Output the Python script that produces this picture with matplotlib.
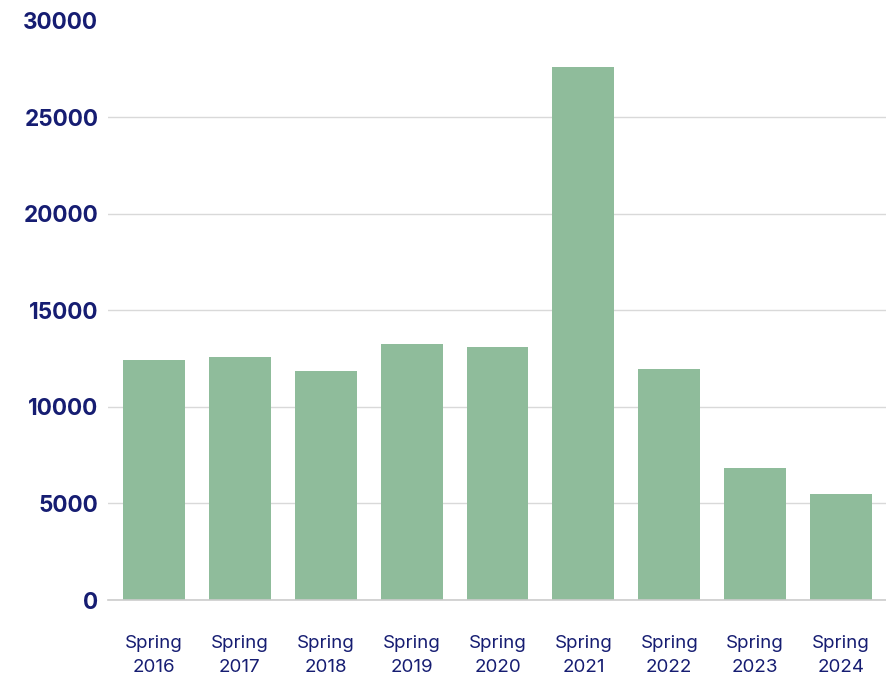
import matplotlib.pyplot as plt
import numpy as np

# Spring term counts per year
seasons = ["Spring\n2016", "Spring\n2017", "Spring\n2018", "Spring\n2019", "Spring\n2020",
           "Spring\n2021", "Spring\n2022", "Spring\n2023", "Spring\n2024"]
counts = [12420, 12570, 11840, 13240, 13090, 27600, 11950, 6830, 5480]
y_ticks = [0, 5000, 10000, 15000, 20000, 25000, 30000]

text_color = "#161d72"
bar_color = "#8fbc9b"

plt.rcParams['font.family'] = ['Inter', 'DejaVu Sans']

fig = plt.figure(figsize=(8.87, 6.77), dpi=100)
ax = fig.add_axes([0.1218, 0.1137, 0.8782, 0.8557])

x = np.arange(len(seasons))
ax.bar(x, counts, width=0.72, color=bar_color, zorder=2)

ax.set_xlim(-0.535, len(seasons) - 1 + 0.535)
ax.set_ylim(0, 30000)
ax.set_yticks(y_ticks)
ax.set_yticklabels([str(v) for v in y_ticks], fontsize=16.2, fontweight='bold', color=text_color)
ax.set_xticks(x)
ax.set_xticklabels(seasons, fontsize=13.5, color=text_color, linespacing=1.55)

ax.tick_params(axis='y', length=0, pad=7)
ax.tick_params(axis='x', length=0, pad=25)

# horizontal grid, top line left out
ax.grid(axis='y', color='#d9d9d9', linewidth=1, zorder=0)
ax.yaxis.get_gridlines()[-1].set_visible(False)

for side in ['top', 'right', 'left']:
    ax.spines[side].set_visible(False)
ax.spines['bottom'].set_color('#cccccc')
ax.spines['bottom'].set_linewidth(1.2)

fig.savefig("out.png", dpi=100)
